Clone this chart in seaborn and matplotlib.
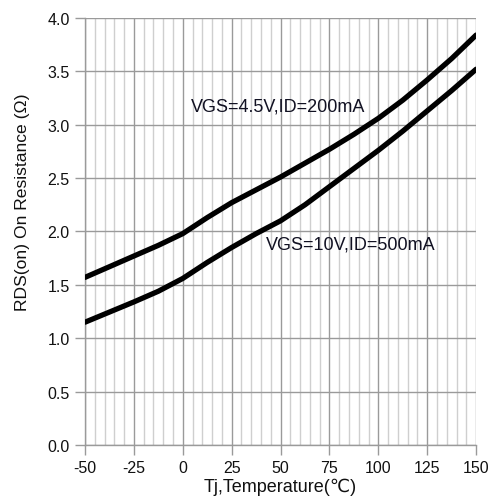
import numpy as np
import pandas as pd
import matplotlib
matplotlib.use("Agg")
import matplotlib.pyplot as plt
import seaborn as sns

temps = [-50, -37.5, -25, -12.5, 0, 12.5, 25, 37.5, 50, 62.5, 75, 87.5, 100, 112.5, 125, 137.5, 150]
rds_45v = [1.57, 1.67, 1.77, 1.87, 1.98, 2.13, 2.27, 2.39, 2.51, 2.64, 2.77, 2.91, 3.06, 3.23, 3.42, 3.62, 3.84]
rds_10v = [1.15, 1.245, 1.34, 1.44, 1.56, 1.71, 1.85, 1.98, 2.10, 2.25, 2.42, 2.59, 2.76, 2.94, 3.13, 3.32, 3.52]
series_names = ["VGS=4.5V,ID=200mA", "VGS=10V,ID=500mA"]
x_ticks = [-50, -25, 0, 25, 50, 75, 100, 125, 150]
y_ticks = [0.0, 0.5, 1.0, 1.5, 2.0, 2.5, 3.0, 3.5, 4.0]

df = pd.DataFrame({
    "T": temps * 2,
    "R": rds_45v + rds_10v,
    "series": [series_names[0]] * len(temps) + [series_names[1]] * len(temps),
})

sns.set_style("white")
plt.rcParams["font.family"] = ["Liberation Sans", "DejaVu Sans"]
plt.rcParams["axes.unicode_minus"] = False

fig = plt.figure(figsize=(4.97, 5.02), dpi=100)
ax = fig.add_axes([0.171, 0.1116, 0.787, 0.8506])

# grid
for xv in np.arange(-50, 151, 5):
    if xv % 25 == 0:
        continue
    ax.axvline(xv, color="#cfcfcf", lw=1.0, zorder=0)
for xv in x_ticks:
    ax.axvline(xv, color="#9a9a9a", lw=1.0, zorder=0.5)
for yv in y_ticks:
    ax.axhline(yv, color="#9a9a9a", lw=1.0, zorder=0.5)

sns.lineplot(data=df, x="T", y="R", hue="series", palette=["black", "black"],
             linewidth=3.8, legend=False, ax=ax, zorder=3)

ax.set_xlim(-50, 150)
ax.set_ylim(0, 4.0)
ax.set_xticks(x_ticks)
ax.set_yticks(y_ticks)
ax.set_yticklabels([f"{v:.1f}" for v in y_ticks])
for s in ["top", "right"]:
    ax.spines[s].set_visible(False)
for s in ["left", "bottom"]:
    ax.spines[s].set_color("#9a9a9a")
    ax.spines[s].set_linewidth(1.0)
ax.tick_params(axis="both", which="major", length=7, width=1.0, color="#9a9a9a",
               labelsize=11.5, labelcolor="#111111", pad=4, direction="out",
               bottom=True, left=True)

ax.set_xlabel("Tj,Temperature(℃)", fontsize=13, color="#111111")
ax.set_ylabel("RDS(on) On Resistance (Ω)", fontsize=12.6, color="#111111")
ax.xaxis.set_label_coords(0.5, -0.077)
ax.yaxis.set_label_coords(-0.141, 0.572)

ax.text(4, 3.18, series_names[0], fontsize=13, color="#111122", va="center", ha="left", zorder=4)
ax.text(42.5, 1.88, series_names[1], fontsize=13, color="#111122", va="center", ha="left", zorder=4)

fig.savefig("out.png", dpi=100, facecolor="white")
